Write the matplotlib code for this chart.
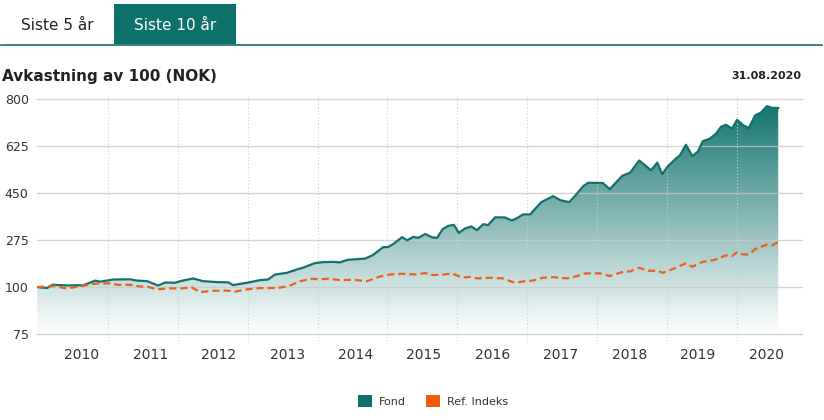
import numpy as np
import matplotlib
matplotlib.use("Agg")
import matplotlib.pyplot as plt
from matplotlib.colors import LinearSegmentedColormap
from matplotlib.patches import Rectangle, Patch
from matplotlib.lines import Line2D

# data (decimal year, value of 100 invested)
fund_x = [2009.99, 2010.13, 2010.21, 2010.41, 2010.56, 2010.64, 2010.82, 2010.89, 2011.07, 2011.32,
          2011.42, 2011.56, 2011.72, 2011.82, 2011.96, 2012.06, 2012.22, 2012.36, 2012.56, 2012.72,
          2012.79, 2012.99, 2013.18, 2013.29, 2013.39, 2013.56, 2013.71, 2013.79, 2013.96, 2014.08,
          2014.22, 2014.32, 2014.43, 2014.68, 2014.79, 2014.94, 2015.01, 2015.08, 2015.21, 2015.28,
          2015.37, 2015.44, 2015.54, 2015.64, 2015.71, 2015.79, 2015.87, 2015.95, 2016.02, 2016.11,
          2016.20, 2016.28, 2016.37, 2016.44, 2016.54, 2016.68, 2016.78, 2016.87, 2016.94, 2017.04,
          2017.20, 2017.37, 2017.47, 2017.60, 2017.68, 2017.80, 2017.87, 2018.00, 2018.08, 2018.18,
          2018.36, 2018.47, 2018.60, 2018.68, 2018.77, 2018.86, 2018.93, 2019.01, 2019.13, 2019.18,
          2019.27, 2019.36, 2019.44, 2019.51, 2019.61, 2019.70, 2019.77, 2019.84, 2019.93, 2020.00,
          2020.09, 2020.17, 2020.26, 2020.34, 2020.43, 2020.50, 2020.59]
fund_y = [100, 99.5, 108.6, 106, 107, 105.6, 124, 120, 128, 129,
          124, 122, 105.6, 117, 116, 123.5, 132, 122, 118.6, 117.5,
          107.4, 116, 126, 128, 146.5, 153, 166, 172, 189, 193,
          194, 192, 201.6, 206, 219, 249, 249, 260, 286, 274,
          287, 283.5, 298, 285, 283.5, 316, 328, 332, 302, 318.5,
          326, 312, 334.5, 331, 360, 359.5, 348, 359.5, 371, 370.7,
          416.5, 439, 424, 416.5, 439, 476, 489, 488, 488, 465,
          515, 526, 572, 555, 535, 564, 521, 550, 580, 590,
          630.5, 588, 604.5, 643.5, 653, 672, 697, 705, 691, 723.5,
          703, 693, 740, 750, 774.6, 768, 767.5]

ref_x = [2009.99, 2010.24, 2010.41, 2010.56, 2010.70, 2010.84, 2011.03, 2011.14, 2011.32, 2011.46,
         2011.57, 2011.70, 2011.85, 2012.06, 2012.20, 2012.32, 2012.50, 2012.70, 2012.82, 2012.99,
         2013.18, 2013.43, 2013.60, 2013.75, 2013.92, 2014.03, 2014.15, 2014.32, 2014.51, 2014.71,
         2014.89, 2015.04, 2015.22, 2015.39, 2015.54, 2015.65, 2015.82, 2015.92, 2016.07, 2016.18,
         2016.29, 2016.47, 2016.65, 2016.82, 2016.97, 2017.08, 2017.22, 2017.37, 2017.57, 2017.71,
         2017.83, 2018.04, 2018.18, 2018.36, 2018.47, 2018.60, 2018.73, 2018.87, 2018.94, 2019.09,
         2019.26, 2019.36, 2019.51, 2019.67, 2019.84, 2019.93, 2020.00, 2020.09, 2020.17, 2020.26,
         2020.43, 2020.50, 2020.59]
ref_y = [100, 103.7, 99.2, 101, 107.4, 113, 113.8, 108.6, 108.6, 101.9,
         101, 98.8, 99.3, 99.3, 99.8, 97.3, 98, 98.1, 97.6, 98.8,
         99.5, 99.5, 104.8, 122, 131, 128.7, 131, 126, 127, 122,
         139, 147, 149.5, 147, 152, 144.7, 147, 151, 135.4, 138,
         132.4, 134.6, 132.4, 116, 122, 124, 134.6, 137, 132.4, 141,
         151, 151, 141, 156, 158.5, 172, 160.7, 160.7, 153, 168,
         188, 175.6, 194, 200.5, 218, 215.4, 230, 221.7, 221.7, 241.5,
         259, 255, 268.6]

y_ticks = [75, 100, 275, 450, 625, 800]
years = list(range(2010, 2021))

TEAL = "#0e716c"
LINE_TEAL = "#14706b"
ORANGE = "#ea5f1a"
TXT = "#333333"


# axis is linear 75..100 for one band, then 175 per band above 100
def fwd(v):
    v = np.asarray(v, dtype=float)
    return np.where(v >= 100, 1 + (v - 100) / 175.0, (v - 75) / 25.0)


def inv(u):
    u = np.asarray(u, dtype=float)
    return np.where(u >= 1, 100 + (u - 1) * 175.0, 75 + u * 25.0)


fig = plt.figure(figsize=(8.24, 4.2), dpi=100)
W, H = 824.0, 420.0

# tabs on top
fig.text(57 / W, 1 - 25 / H, "Siste 5 år", ha="center", va="center", fontsize=11, color="#222222")
fig.add_artist(Rectangle((114 / W, 1 - 44 / H), 122 / W, 40 / H, transform=fig.transFigure,
                         facecolor=TEAL, edgecolor="none"))
fig.text(175 / W, 1 - 25 / H, "Siste 10 år", ha="center", va="center", fontsize=11, color="white")
fig.add_artist(Line2D([1 / W, 822 / W], [1 - 44.5 / H, 1 - 44.5 / H], transform=fig.transFigure,
                      color=TEAL, lw=1.2))

fig.text(2 / W, 1 - 76 / H, "Avkastning av 100 (NOK)", ha="left", va="center",
         fontsize=11, fontweight="bold", color="#222222")
fig.text(801 / W, 1 - 76 / H, "31.08.2020", ha="right", va="center",
         fontsize=8, fontweight="bold", color="#222222")

ax = fig.add_axes([37 / W, 1 - 334 / H, (802 - 37) / W, (334 - 99.3) / H])
ax.set_yscale("function", functions=(fwd, inv))

# gradient area under the fund line
poly = ax.fill_between(fund_x, fund_y, 75, facecolor="none", edgecolor="none")
cmap = LinearSegmentedColormap.from_list("fade", ["#ffffff", TEAL])
grad = np.linspace(1, 0, 256).reshape(-1, 1)
im = ax.imshow(grad, cmap=cmap, extent=[0, 1, 0, 1], transform=ax.transAxes,
               aspect="auto", zorder=1, interpolation="bicubic")
im.set_clip_path(poly.get_paths()[0], ax.transData)

ax.plot(fund_x, fund_y, color=LINE_TEAL, lw=1.6, zorder=4, solid_joinstyle="round")
ax.plot(ref_x, ref_y, color=ORANGE, lw=1.6, ls=(0, (3.2, 1.8)), zorder=4)

for yv in y_ticks:
    ax.axhline(yv, color="#c8c8c8", lw=1, alpha=0.75, zorder=2, clip_on=False)
for yr in years[1:]:
    ax.axvline(yr, ymin=-0.03, ymax=1.015, color="#cfcfcf", lw=0.8, ls=(0, (1, 2)),
               zorder=2, clip_on=False)

ax.set_xlim(2009.986, 2020.93)
ax.set_ylim(75, 800)
ax.set_yticks(y_ticks)
ax.set_yticklabels([str(v) for v in y_ticks])
lbl_pos = [y + 0.63 - 0.0215 * (y - 2010) for y in years]
ax.set_xticks(lbl_pos)
ax.set_xticklabels([str(y) for y in years])
ax.tick_params(axis="both", length=0, colors=TXT)
ax.tick_params(axis="x", labelsize=10, pad=10)
ax.tick_params(axis="y", labelsize=9, pad=6)
for s in ax.spines.values():
    s.set_visible(False)

handles = [Patch(facecolor=TEAL, edgecolor="none", label="Fond"),
           Patch(facecolor="#f25a0a", edgecolor="none", label="Ref. Indeks")]
fig.legend(handles=handles, loc="center", bbox_to_anchor=(433 / W, 1 - 401 / H), ncol=2,
           frameon=False, fontsize=8, handlelength=1.3, handleheight=1.3,
           handletextpad=0.6, columnspacing=1.8, labelcolor=TXT)

fig.savefig("out.png", dpi=100)
